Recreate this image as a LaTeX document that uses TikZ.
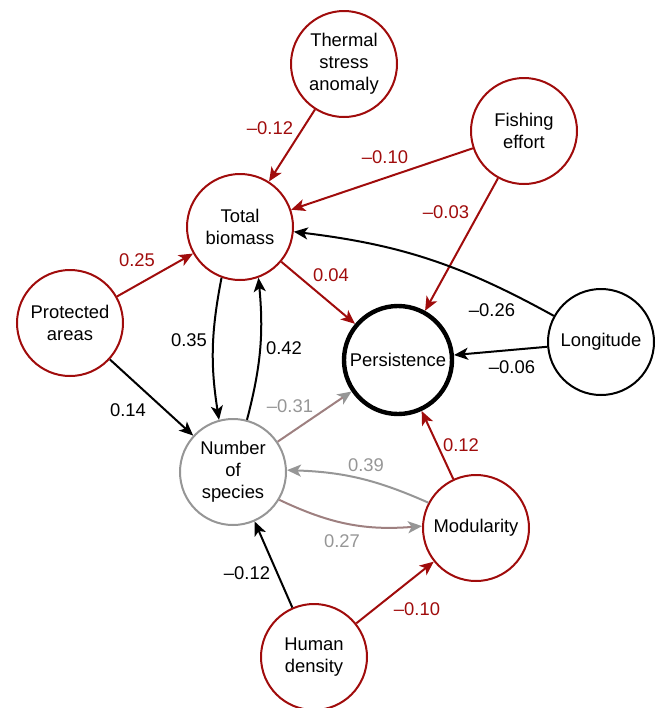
\documentclass[tikz,border=0pt]{standalone}
\usepackage{fontspec}
\setmainfont{Liberation Sans}
\usetikzlibrary{arrows.meta}
\definecolor{dred}{RGB}{160,12,12}
\definecolor{lgray}{RGB}{150,150,150}
\definecolor{sgray}{RGB}{158,128,128}

\begin{document}
\begin{tikzpicture}[x=0.5pt,y=0.5pt,
 font=\fontsize{9.2}{10.9}\selectfont,
 var/.style={circle,draw=dred,line width=1pt,minimum size=53pt,inner sep=0pt,align=center},
 arr/.style={line width=1pt,-{Stealth[length=7pt,width=6pt,inset=1.8pt]}},
 rarr/.style={arr,dred},
 barr/.style={arr,black},
 garr/.style={arr,lgray},
 sarr/.style={line width=1pt,sgray,-{Stealth[length=7pt,width=6pt,inset=1.8pt,color=lgray]}},
 lab/.style={inner sep=0pt},
 rlab/.style={lab,text=dred},
 glab/.style={lab,text=lgray}]
%\draw [help lines] (0,0) grid (662,-708);
\useasboundingbox (0,0) rectangle (662,-708);

% variables
\node [var] (therm) at (344,-64) {Thermal\\stress\\anomaly};
\node [var] (fish) at (524,-131) {Fishing\\effort};
\node [var] (bio) at (240,-227) {Total\\biomass};
\node [var] (prot) at (70,-323) {Protected\\areas};
\node [var,draw=black,line width=2.2pt,minimum size=54pt] (pers) at (398,-360) {Persistence};
\node [var,draw=black] (long) at (601,-342) {Longitude};
\node [var,draw=lgray] (spec) at (233,-472) {Number\\of\\species};
\node [var] (mod) at (476,-528) {Modularity};
\node [var] (hum) at (314,-657) {Human\\density};

% paths
\draw [rarr] (therm) -- (bio);
\draw [rarr] (fish) -- (bio);
\draw [rarr] (fish) -- (pers);
\draw [rarr] (prot) -- (bio);
\draw [rarr] (bio) -- (pers);
\draw [barr] (long.151) to [bend right=11] (bio.-5);
\draw [barr] (long) -- (pers);
\draw [barr] (prot) -- (spec);
\draw [barr] (bio.250) to [bend right=10] (spec.105);
\draw [barr] (spec.75) to [bend right=10] (bio.290);
\draw [sarr] (spec) -- (pers);
\draw [garr] (mod.152) to [bend right=11] (spec.2);
\draw [sarr] (spec.-31) to [bend right=15] (mod.178);
\draw [rarr] (mod) -- (pers);
\draw [barr] (hum) -- (spec);
\draw [rarr] (hum) -- (mod);

% coefficients
\node [rlab] (c1) at (270,-128) {--0.12};
\node [rlab] (c2) at (385,-157) {--0.10};
\node [rlab] (c3) at (446,-212) {--0.03};
\node [rlab] (c4) at (137,-260) {0.25};
\node [rlab] (c5) at (331,-275) {0.04};
\node [lab] (c6) at (492,-310) {--0.26};
\node [lab] (c7) at (512,-367) {--0.06};
\node [lab] (c8) at (128,-410) {0.14};
\node [lab] (c9) at (189,-340) {0.35};
\node [lab] (c10) at (284,-348) {0.42};
\node [glab] (c11) at (290,-406) {--0.31};
\node [glab] (c12) at (366,-465) {0.39};
\node [glab] (c13) at (342,-541) {0.27};
\node [rlab] (c14) at (461,-445) {0.12};
\node [lab] (c15) at (247,-573) {--0.12};
\node [rlab] (c16) at (417,-609) {--0.10};
\end{tikzpicture}
\end{document}
